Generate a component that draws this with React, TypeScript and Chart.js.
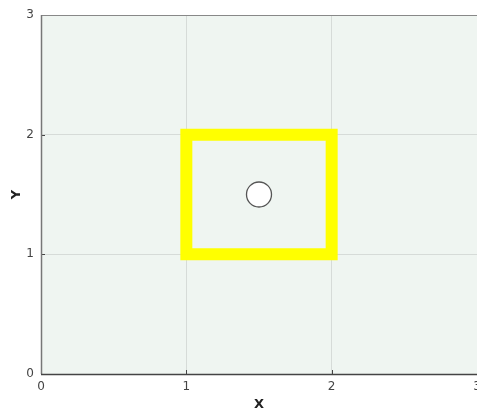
import React, { useEffect, useRef } from "react";
import { Chart, registerables } from "chart.js";

Chart.register(...registerables);

const rectX = [1, 2, 2, 1, 1];
const rectY = [1, 1, 2, 2, 1];
const circleX = [1.5];
const circleY = [1.5];
const tickValues = [0, 1, 2, 3];
const xTitle = "X";
const yTitle = "Y";

const framePlugin = {
  id: "frame",
  beforeDraw(chart: any) {
    const { ctx, chartArea } = chart;
    ctx.save();
    ctx.fillStyle = "#eff5f1";
    ctx.fillRect(chartArea.left, chartArea.top, chartArea.right - chartArea.left, chartArea.bottom - chartArea.top);
    ctx.restore();
  },
  afterDraw(chart: any) {
    const { ctx, chartArea, scales } = chart;
    ctx.save();
    ctx.lineWidth = 1;
    ctx.strokeStyle = "#444";
    ctx.beginPath();
    for (const v of tickValues) {
      const px = Math.round(scales.x.getPixelForValue(v)) + 0.5;
      ctx.moveTo(px, chartArea.bottom);
      ctx.lineTo(px, chartArea.bottom - 4);
      const py = Math.round(scales.y.getPixelForValue(v)) + 0.5;
      ctx.moveTo(chartArea.left, py);
      ctx.lineTo(chartArea.left + 4, py);
    }
    ctx.stroke();
    ctx.strokeStyle = "#888";
    ctx.beginPath();
    ctx.moveTo(chartArea.left, chartArea.top + 0.5);
    ctx.lineTo(chartArea.right, chartArea.top + 0.5);
    ctx.stroke();
    ctx.lineWidth = 1.5;
    ctx.strokeStyle = "#777";
    ctx.beginPath();
    ctx.moveTo(chartArea.left + 0.5, chartArea.top);
    ctx.lineTo(chartArea.left + 0.5, chartArea.bottom);
    ctx.stroke();
    ctx.strokeStyle = "#444";
    ctx.beginPath();
    ctx.moveTo(chartArea.left, chartArea.bottom + 0.5);
    ctx.lineTo(chartArea.right, chartArea.bottom + 0.5);
    ctx.stroke();
    ctx.restore();
  },
};

export default function App() {
  const ref = useRef<HTMLCanvasElement>(null);
  useEffect(() => {
    if (!ref.current) return;
    const rect = rectX.map((x, i) => ({ x, y: rectY[i] }));
    const circ = circleX.map((x, i) => ({ x, y: circleY[i] }));
    const chart = new Chart(ref.current, {
      type: "scatter",
      data: {
        datasets: [
          {
            data: rect,
            showLine: true,
            borderColor: "#ffff00",
            backgroundColor: "#ffff00",
            borderWidth: 12,
            pointRadius: 0,
            borderJoinStyle: "miter",
            borderCapStyle: "square",
          } as any,
          {
            data: circ,
            pointRadius: 12.5,
            pointBackgroundColor: "#ffffff",
            pointBorderColor: "#555555",
            pointBorderWidth: 1.3,
          } as any,
        ],
      },
      options: {
        responsive: false,
        animation: false,
        layout: { autoPadding: false, padding: { top: 15, right: -1, left: 0, bottom: 0 } },
        plugins: { legend: { display: false }, tooltip: { enabled: false } },
        scales: {
          x: {
            type: "linear",
            min: 0,
            max: 3,
            afterBuildTicks: (s: any) => {
              s.ticks = tickValues.map((v) => ({ value: v }));
            },
            afterFit: (s: any) => {
              s.paddingLeft = 0;
              s.paddingRight = 0;
              s.height = 36;
            },
            border: { display: false },
            grid: { color: "#d6dbd8", drawTicks: false, lineWidth: 1 },
            ticks: {
              padding: 6,
              color: "#444",
              font: { family: "DejaVu Sans", size: 12 },
              maxRotation: 0,
            },
            title: {
              display: true,
              text: xTitle,
              color: "#222",
              font: { family: "DejaVu Sans", size: 13, weight: "bold" },
              padding: { top: 6, bottom: -2 },
            },
          },
          y: {
            type: "linear",
            min: 0,
            max: 3,
            afterBuildTicks: (s: any) => {
              s.ticks = tickValues.map((v) => ({ value: v }));
            },
            afterFit: (s: any) => {
              s.paddingTop = 0;
              s.paddingBottom = 0;
              s.width = 41;
            },
            border: { display: false },
            grid: { color: "#d6dbd8", drawTicks: false, lineWidth: 1 },
            ticks: {
              padding: 7,
              color: "#444",
              font: { family: "DejaVu Sans", size: 12 },
            },
            title: {
              display: true,
              text: yTitle,
              color: "#222",
              font: { family: "DejaVu Sans", size: 13, weight: "bold" },
              padding: { top: 9, bottom: 4 },
            },
          },
        },
      },
      plugins: [framePlugin],
    });
    return () => chart.destroy();
  }, []);
  return (
    <div style={{ position: "fixed", left: 0, top: 0, width: 477, height: 410, background: "#fff" }}>
      <canvas ref={ref} width={477} height={410} style={{ width: 477, height: 410 }} />
    </div>
  );
}
